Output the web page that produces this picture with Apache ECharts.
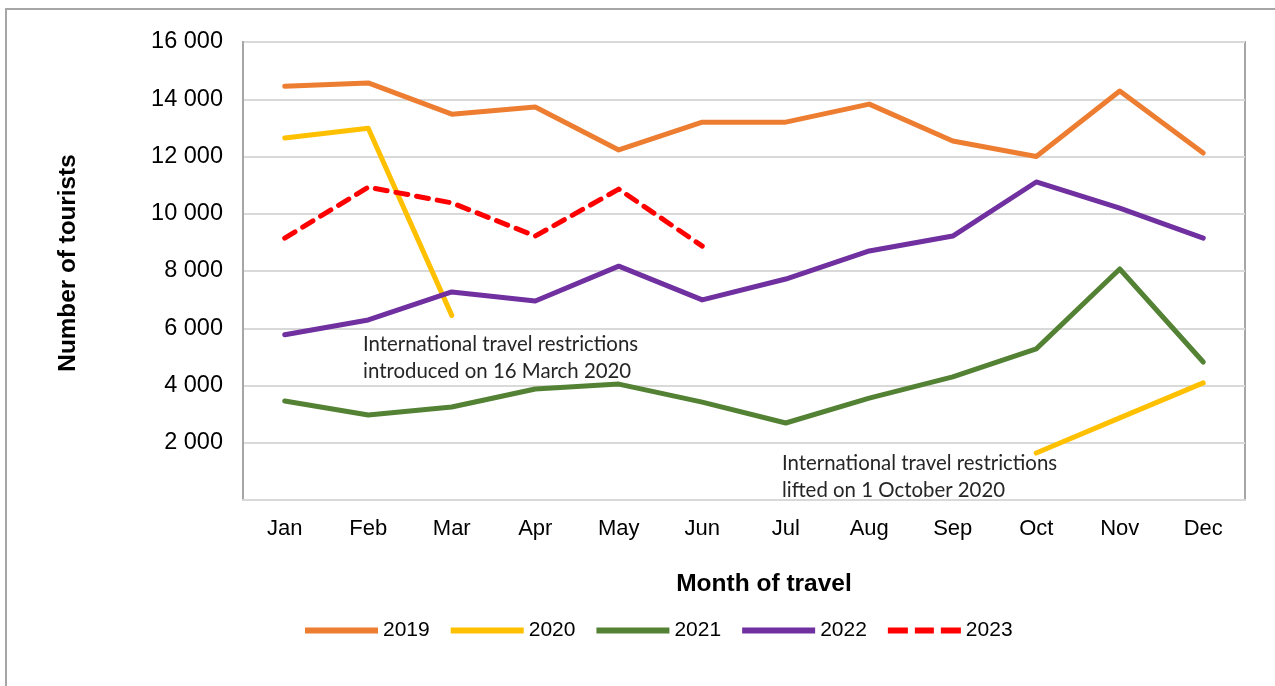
<!DOCTYPE html>
<html>
<head>
<meta charset="utf-8">
<script src="https://cdn.jsdelivr.net/npm/echarts@6/dist/echarts.min.js"></script>
<style>html,body{margin:0;padding:0;background:#fff}#c{width:1275px;height:686px}</style>
</head>
<body>
<div id="c"></div>
<script>
const months = ['Jan','Feb','Mar','Apr','May','Jun','Jul','Aug','Sep','Oct','Nov','Dec'];
const y2019 = [14450, 14570, 13480, 13730, 12230, 13200, 13200, 13830, 12540, 12000, 14290, 12120];
const y2020 = [12650, 12990, 6450, null, null, null, null, null, null, 1640, 2870, 4090];
const y2021 = [3460, 2970, 3250, 3880, 4050, 3420, 2690, 3560, 4300, 5280, 8070, 4820];
const y2022 = [5770, 6290, 7270, 6950, 8170, 6990, 7720, 8700, 9220, 11110, 10200, 9150];
const y2023 = [9150, 10930, 10380, 9220, 10860, 8870, null, null, null, null, null, null];
const yTicks = {min: 0, max: 16000, interval: 2000};
const note1 = ['International travel restrictions', 'introduced on 16 March 2020'];
const note2 = ['International travel restrictions', 'lifted on 1 October 2020'];

const chart = echarts.init(document.getElementById('c'));
function mk(name, data, color, dashed) {
  return {
    name, type: 'line', data, showSymbol: false, symbol: 'none', connectNulls: false,
    lineStyle: {color, width: 5, type: dashed ? [12, 9] : 'solid', cap: 'round', join: 'round'},
    itemStyle: {color}, emphasis: {disabled: true}, animation: false
  };
}
const solidIcon = 'path://M0,0h73v6h-73z';
const dashIcon = 'path://M0,0h20v6h-20z M27,0h19v6h-19z M53,0h20v6h-20z';
chart.setOption({
  animation: false,
  grid: {left: 243, right: 30, top: 42, bottom: 186, show: true, borderColor: '#a6a6a6', borderWidth: 2},
  xAxis: {
    type: 'category', data: months, boundaryGap: true,
    axisLine: {lineStyle: {color: '#d9d9d9', width: 2}},
    axisTick: {show: false},
    axisLabel: {color: '#000', fontFamily: 'Liberation Sans', fontSize: 22, margin: 18},
    name: 'Month of travel', nameLocation: 'middle', nameGap: 72,
    nameTextStyle: {color: '#000', fontFamily: 'Liberation Sans', fontWeight: 'bold', fontSize: 24.5, padding: [0, 0, 0, 40]}
  },
  yAxis: {
    type: 'value', min: yTicks.min, max: yTicks.max, interval: yTicks.interval,
    axisLine: {show: true, lineStyle: {color: '#a6a6a6', width: 2}},
    axisTick: {show: false},
    splitLine: {lineStyle: {color: '#d9d9d9', width: 2}},
    axisLabel: {
      color: '#000', fontFamily: 'Liberation Sans', fontSize: 23.5, margin: 20,
      formatter: v => v === 0 ? '' : String(v).replace(/\B(?=(\d{3})+(?!\d))/g, ' ')
    },
    name: 'Number of tourists', nameLocation: 'middle', nameGap: 163, nameRotate: 90,
    nameTextStyle: {color: '#000', fontFamily: 'Liberation Sans', fontWeight: 'bold', fontSize: 24.3, padding: [0, 0, 0, 16]}
  },
  legend: {
    left: 305, top: 620, padding: 0, itemWidth: 73, itemHeight: 6, itemGap: 21,
    textStyle: {color: '#000', fontFamily: 'Liberation Sans', fontSize: 21, padding: [0, 0, 0, 0]},
    data: [
      {name: '2019', icon: solidIcon},
      {name: '2020', icon: solidIcon},
      {name: '2021', icon: solidIcon},
      {name: '2022', icon: solidIcon},
      {name: '2023', icon: dashIcon}
    ]
  },
  series: [
    mk('2019', y2019, '#ED7D31'),
    mk('2020', y2020, '#FFC000'),
    mk('2021', y2021, '#548235'),
    mk('2022', y2022, '#7030A0'),
    mk('2023', y2023, '#FF0000', true)
  ],
  graphic: [
    {type: 'rect', shape: {x: 6, y: 9, width: 1320, height: 720}, style: {fill: 'none', stroke: '#a6a6a6', lineWidth: 2}, silent: true, z: -10},
    {type: 'text', x: 363, y: 331, style: {text: note1.join('\n'), font: '20.4px Lato', fill: '#262626', lineHeight: 27}},
    {type: 'text', x: 782, y: 450, style: {text: note2.join('\n'), font: '20.4px Lato', fill: '#262626', lineHeight: 27}}
  ]
});
</script>
</body>
</html>
